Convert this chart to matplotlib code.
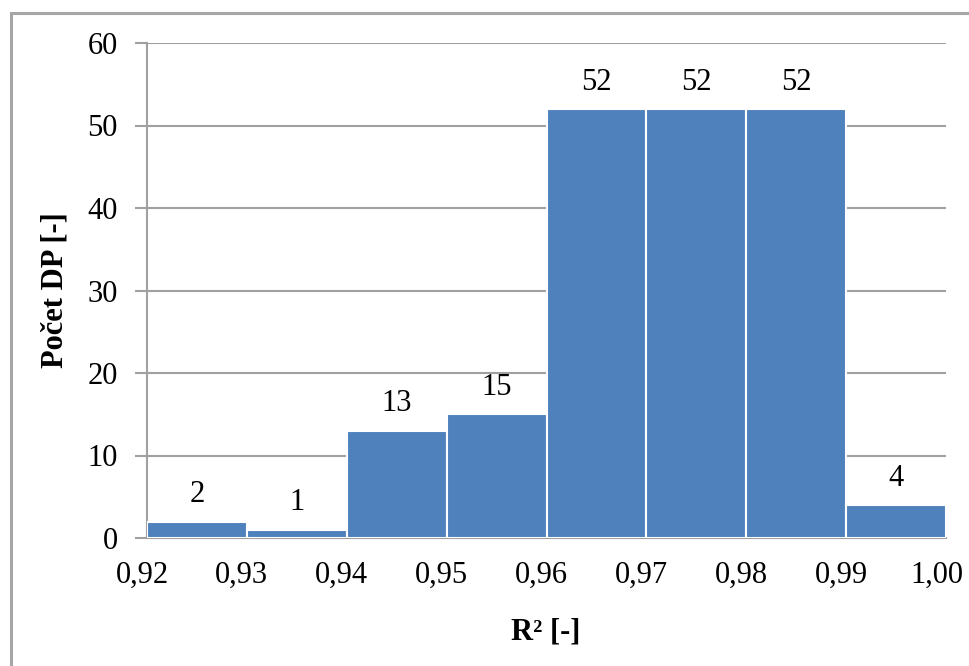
import matplotlib
matplotlib.use("Agg")
import matplotlib.pyplot as plt
import matplotlib.transforms as mtransforms
from matplotlib.patches import Rectangle

bin_edges = [0.92, 0.93, 0.94, 0.95, 0.96, 0.97, 0.98, 0.99, 1.00]
counts = [2, 1, 13, 15, 52, 52, 52, 4]
x_tick_labels = ["0,92", "0,93", "0,94", "0,95", "0,96", "0,97", "0,98", "0,99", "1,00"]
y_ticks = [0, 10, 20, 30, 40, 50, 60]

plt.rcParams['font.family'] = ['Liberation Serif', 'DejaVu Serif']

fig = plt.figure(figsize=(9.7, 6.66), dpi=100)
# outer chart border (only top and left visible in the reference)
fig.add_artist(Rectangle((11/970, -0.05), 1.2, 1 - 13/666 + 0.05,
                         transform=fig.transFigure, fill=False,
                         edgecolor='#A6A6A6', linewidth=2.2))

ax = fig.add_axes([147/970, 1 - 538/666, (946 - 147)/970, (538 - 43)/666])

lefts = bin_edges[:-1]
widths = [b - a for a, b in zip(bin_edges[:-1], bin_edges[1:])]
bars = ax.bar(lefts, counts, width=widths, align='edge', color='#4F81BD',
              edgecolor='white', linewidth=1.5, zorder=3)

for b, c in zip(bars, counts):
    ax.text(b.get_x() + b.get_width()/2, c + 1.5, str(c), ha='center', va='bottom',
            fontsize=22, color='#000000')

ax.set_xlim(bin_edges[0], bin_edges[-1])
ax.set_ylim(0, 60)
ax.set_yticks(y_ticks)
ax.set_yticklabels([str(v) for v in y_ticks], fontsize=22)
ax.set_xticks(bin_edges)
ax.set_xticklabels([])

# Excel-like category labels, slightly shifted left (last one pulled in to fit)
xtrans = ax.get_xaxis_transform()
for i, (pos, lab) in enumerate(zip(bin_edges, x_tick_labels)):
    dx = -5 if i < len(bin_edges) - 1 else -9
    tr = mtransforms.offset_copy(xtrans, fig=fig, x=dx, y=-37, units='dots')
    ax.text(pos, 0, lab, transform=tr, ha='center', va='center', fontsize=22,
            clip_on=False)

ax.yaxis.grid(True, color='#A0A0A0', linewidth=1.5, zorder=0)
ax.set_axisbelow(True)
for s in ['top', 'right']:
    ax.spines[s].set_visible(False)
for s in ['left', 'bottom']:
    ax.spines[s].set_color('#A0A0A0')
    ax.spines[s].set_linewidth(1.5)
ax.tick_params(axis='y', length=9, width=1.5, color='#A0A0A0', pad=12)
ax.tick_params(axis='x', length=0)

fig.text(55/970, 1 - 290/666, "Počet DP [-]", rotation=90, ha='center', va='center',
         fontsize=22, fontweight='bold')
fig.text(546/970, 1 - 632/666, "R² [-]", ha='center', va='center',
         fontsize=22, fontweight='bold')

fig.savefig("out.png", dpi=100)
